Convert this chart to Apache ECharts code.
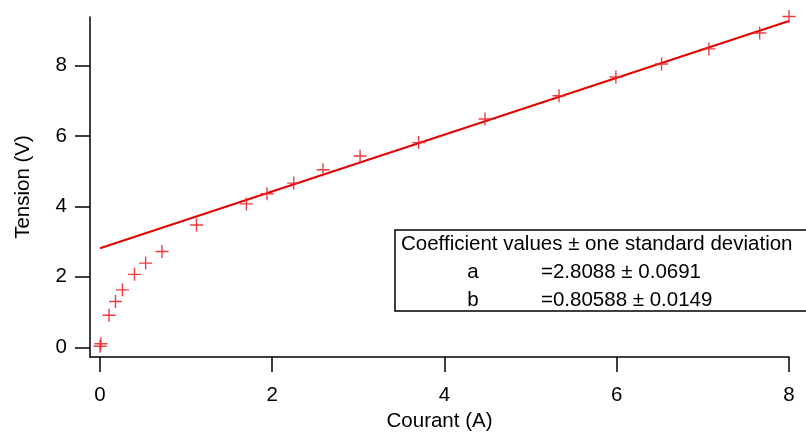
<!DOCTYPE html>
<html>
<head>
<meta charset="utf-8">
<script src="https://cdn.jsdelivr.net/npm/echarts@6/dist/echarts.min.js"></script>
<style>
html,body{margin:0;padding:0;background:#fff;}
#chart{width:806px;height:434px;}
</style>
</head>
<body>
<div id="chart"></div>
<script>
// Measured data: current (A) and voltage (V)
var courant = [0.00, 0.01, 0.105, 0.18, 0.26, 0.40, 0.53, 0.72, 1.12, 1.70, 1.94, 2.25, 2.59, 3.02, 3.70, 4.47, 5.33, 5.99, 6.52, 7.07, 7.66, 8.00];
var tension = [0.03, 0.10, 0.91, 1.30, 1.63, 2.07, 2.39, 2.72, 3.47, 4.07, 4.36, 4.66, 5.04, 5.43, 5.81, 6.48, 7.14, 7.67, 8.04, 8.47, 8.92, 9.39];
// Fitted line end points
var fitX = [0, 8];
var fitY = [2.81, 9.26];
// Tick values
var xTicks = [0, 2, 4, 6, 8];
var yTicks = [0, 2, 4, 6, 8];
// Fit coefficient texts
var coefTitle = 'Coefficient values \u00b1 one standard deviation';
var coefNames = ['a', 'b'];
var coefValues = ['=2.8088 \u00b1 0.0691', '=0.80588 \u00b1 0.0149'];

var FONT = "'Liberation Sans', Arial, Helvetica, sans-serif";
var pts = courant.map(function (x, i) { return [x, tension[i]]; });
var fitPts = fitX.map(function (x, i) { return [x, fitY[i]]; });
var plus = 'path://M0,5.8H13V7.2H0Z M5.8,0H7.2V13H5.8Z';

var chart = echarts.init(document.getElementById('chart'), null, {renderer: 'canvas'});
var axisCommon = {
  axisLine: {onZero: false, lineStyle: {color: '#000', width: 1.5}},
  axisTick: {length: 15, lineStyle: {color: '#000', width: 1.5}},
  splitLine: {show: false},
  nameTextStyle: {fontFamily: FONT, fontSize: 20.5, color: '#000'}
};
var graphics = [{
  type: 'rect',
  shape: {x: 395, y: 230, width: 430, height: 81},
  style: {fill: '#fff', stroke: '#000', lineWidth: 1.5},
  z: 100
}, {
  type: 'text', x: 401, y: 244, z: 101,
  style: {text: coefTitle, font: '20.5px ' + FONT, fill: '#000', verticalAlign: 'middle', align: 'left'}
}];
coefNames.forEach(function (n, i) {
  graphics.push({
    type: 'text', x: 473, y: 272 + i * 28, z: 101,
    style: {text: n, font: '20.5px ' + FONT, fill: '#000', verticalAlign: 'middle', align: 'center'}
  });
  graphics.push({
    type: 'text', x: 541, y: 272 + i * 28, z: 101,
    style: {text: coefValues[i], font: '20.5px ' + FONT, fill: '#000', verticalAlign: 'middle', align: 'left'}
  });
});

chart.setOption({
  animation: false,
  backgroundColor: '#fff',
  grid: {left: 90, right: 17, top: 17, bottom: 77, containLabel: false, outerBoundsMode: 'none'},
  xAxis: Object.assign({}, axisCommon, {
    type: 'value', min: -0.116, max: 8,
    name: 'Courant (A)', nameLocation: 'middle', nameGap: 52,
    axisTick: Object.assign({}, axisCommon.axisTick, {customValues: xTicks}),
    axisLabel: {customValues: xTicks, margin: 28, fontFamily: FONT, fontSize: 20.5, color: '#000'}
  }),
  yAxis: Object.assign({}, axisCommon, {
    type: 'value', min: -0.276, max: 9.375,
    name: 'Tension (V)', nameLocation: 'middle', nameGap: 56,
    axisTick: Object.assign({}, axisCommon.axisTick, {customValues: yTicks}),
    axisLabel: {customValues: yTicks, margin: 23, fontFamily: FONT, fontSize: 20.5, color: '#000'}
  }),
  series: [{
    type: 'line',
    data: fitPts,
    showSymbol: false,
    symbol: 'none',
    lineStyle: {color: '#e60000', width: 2},
    z: 2
  }, {
    type: 'scatter',
    data: pts,
    clip: false,
    symbol: plus,
    symbolSize: 13,
    itemStyle: {color: '#f0262c', opacity: 0.9},
    z: 3
  }],
  graphic: graphics
});
</script>
</body>
</html>
